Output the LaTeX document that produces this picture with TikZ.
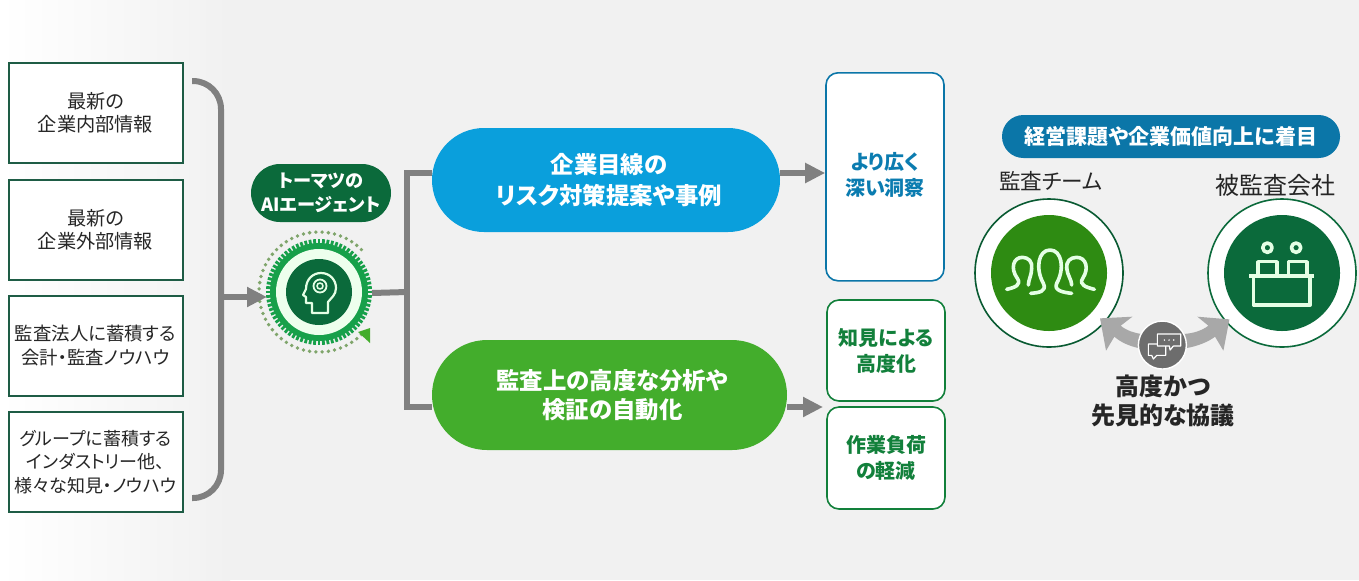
\documentclass[tikz,border=0pt]{standalone}
\usepackage{fontspec}
\setmainfont[RawFeature=+palt]{Noto Sans CJK JP}
\usetikzlibrary{arrows.meta}
\definecolor{darkgreen}{HTML}{0B6A3B}
\definecolor{midgreen}{HTML}{2E8B12}
\definecolor{lightgreen}{HTML}{43AD2C}
\definecolor{gearcol}{HTML}{17A04A}
\definecolor{dotcol}{HTML}{7FA56B}
\definecolor{boxline}{HTML}{1E5C45}
\definecolor{skyblue}{HTML}{0A9FDC}
\definecolor{deepblue}{HTML}{0B76A8}
\definecolor{linegray}{HTML}{808080}
\definecolor{palegray}{HTML}{A8A8A8}
\definecolor{bggray}{HTML}{F1F1F1}
\tikzset{
  srcbox/.style={draw=boxline,fill=white,line width=1pt,minimum width=87pt,minimum height=50pt,align=center,inner sep=0pt,
    font=\fontsize{9.6}{11.6}\selectfont,text=black!85},
  bluepill/.style={fill=skyblue,text=white,rounded corners=26pt,minimum width=174pt,minimum height=52pt,align=center,
    font=\bfseries\fontsize{11.7}{15.5}\selectfont},
  greenpill/.style={fill=lightgreen,text=white,rounded corners=27.5pt,minimum width=177.5pt,minimum height=55pt,align=center,
    font=\bfseries\fontsize{11.7}{14.5}\selectfont},
  resultbox/.style={draw=gearcol!80!black,fill=white,line width=.8pt,rounded corners=6pt,minimum width=59pt,align=center,
    text=gearcol!80!black,font=\bfseries\fontsize{10}{13}\selectfont},
  flow/.style={draw=linegray,line width=3pt},
  flowarrow/.style={flow,-{Triangle[length=10pt,width=9.5pt]}},
  iconline/.style={draw=white!90!green,line width=1.1pt,line cap=round,line join=round},
  bigring/.style={circle,fill=white,line width=.8pt,minimum size=74pt,inner sep=0pt},
  bigdisc/.style={circle,minimum size=58pt,inner sep=0pt}
}
\begin{document}
\begin{tikzpicture}[x=0.5pt,y=-0.5pt]
    \useasboundingbox (0,0) rectangle (1359,580);

    % Background, white at the left edge
    \fill[bggray] (0,0) rectangle (1359,580);
    \shade[left color=white,right color=bggray] (0,0) rectangle (230,580);

    % Source boxes
    \node[srcbox] (internal) at (95.5,113) {最新の\\企業内部情報};
    \node[srcbox] (external) at (95.5,229.5) {最新の\\企業外部情報};
    \node[srcbox,font=\fontsize{9.2}{11.6}\selectfont] (knowhow) at (95.5,345.5) {監査法人に蓄積する\\会計・監査ノウハウ};
    \node[srcbox,font=\fontsize{9}{11.6}\selectfont] (group) at (95.5,462) {グループに蓄積する\\インダストリー他、\\様々な知見・ノウハウ};

    % Bracket
    \coordinate (brtop) at (192,81);
    \coordinate (brmid) at (221,297);
    \coordinate (brbot) at (192,498);
    \draw[flow,rounded corners=14pt] (brtop) -- (221,81) -- (brmid) -- (221,498) -- (brbot);

    % Agent label
    \node[fill=darkgreen,text=white,rounded corners=14.5pt,minimum width=70pt,minimum height=29pt,align=center,
      font=\bfseries\fontsize{9.1}{12}\selectfont] (agentlabel) at (321,193) {トーマツの\\AIエージェント};

    % Agent gear
    \coordinate (gear) at (319,292);
    \foreach \a in {45,51,...,315}
      \fill[dotcol] (gear) ++(-\a:60) circle (1.9);
    \foreach \a in {0,5,...,355}
      \draw[gearcol,line width=1.4pt] (gear) ++(\a:47) -- ++(\a:6);
    \fill[gearcol] (gear) circle (49);
    \fill[white!93!green] (gear) circle (43);
    \node[circle,fill=darkgreen,minimum size=33pt,inner sep=0pt] (agent) at (gear) {};
    \fill[lightgreen] (370,328) -- (358,332) -- (370,343) -- cycle;

    % Head icon
    \draw[iconline] (312,313) -- (312,303) -- (306,303) -- (306,297) -- (303,295) -- (306,289)
      .. controls (306,279) and (313,273) .. (321,273)
      .. controls (330,273) and (336,280) .. (336,288)
      .. controls (336,295) and (331,298) .. (328,302) -- (328,313) -- cycle;
    \draw[iconline,line width=.9pt] (320,286) circle (6.5);
    \draw[iconline,line width=.8pt] (320,286) circle (3);

    % Flow lines
    \coordinate (trunktop) at (407,173);
    \coordinate (trunkbot) at (407,407);
    \coordinate (trunkmid) at (407,292);
    \draw[flowarrow] (brmid) -- (267,297);
    \draw[flow] (372,293) -- (trunkmid);
    \node[bluepill] (risk) at (606,180) {\hspace{3pt}企業目線の\\\hspace{3pt}リスク対策提案や事例};
    \node[greenpill] (audit) at (609.5,395) {\hspace{3pt}監査上の高度な分析や\\\hspace{3pt}検証の自動化};
    \draw[flow] (risk.west |- trunktop) -- (trunktop) -- (trunkbot) -- (audit.west |- trunkbot);

    % Result boxes
    \node[resultbox,draw=deepblue,minimum height=104pt,anchor=north] (insight) at (885,72) {};
    \node[text=deepblue!85!skyblue,align=center,font=\bfseries\fontsize{10}{13}\selectfont] (insighttext) at (885,175) {より広く\\深い洞察};
    \node[resultbox,minimum height=50.5pt] (advance) at (886,350.5) {知見による\\高度化};
    \node[resultbox,minimum height=51pt] (workload) at (886,458) {作業負荷\\の軽減};
    \draw[flowarrow] (780,173) -- (insight.west |- 0,173);
    \draw[flowarrow] (audit.east |- trunkbot) -- (823,407);

    % Right side heading
    \node[fill=deepblue,text=white,rounded corners=10.7pt,minimum width=169pt,minimum height=21.5pt,
      font=\bfseries\fontsize{10.5}{12}\selectfont] (focus) at (1171,136.5) {経営課題や企業価値向上に着目};
    \node[font=\fontsize{10.8}{14}\selectfont,text=black!85] (team) at (1051,181) {監査チーム};
    \node[font=\fontsize{12}{14}\selectfont,text=black!85] (client) at (1275,185) {被監査会社};

    % Team and client circles
    \node[bigring,draw=darkgreen!85!black] (teamring) at (1049,273) {};
    \node[bigdisc,fill=midgreen] (teamdisc) at (teamring) {};
    \node[bigring,draw=darkgreen] (clientring) at (1282,273) {};
    \node[bigdisc,fill=darkgreen] (clientdisc) at (clientring) {};

    % People icon
    \begin{scope}[shift={(960,200)},x=0.1667pt,y=-0.1667pt]
      \draw[iconline,line width=1.8pt] (140,268) .. controls (165,262) and (185,255) .. (172,235)
        .. controls (150,205) and (160,172) .. (187,172) .. controls (205,172) and (218,185) .. (215,205);
      \draw[iconline,line width=1.8pt] (212,280) .. controls (235,278) and (262,275) .. (250,250)
        .. controls (225,205) and (235,150) .. (270,150) .. controls (305,150) and (315,205) .. (290,250)
        .. controls (280,272) and (310,277) .. (335,280);
      \draw[iconline,line width=1.8pt] (320,205) .. controls (318,185) and (330,172) .. (350,172)
        .. controls (378,172) and (388,205) .. (368,235) .. controls (355,255) and (380,262) .. (403,268);
      \draw[iconline,line width=1.8pt] (215,205) .. controls (215,225) and (205,240) .. (205,255);
      \draw[iconline,line width=1.8pt] (320,205) .. controls (322,225) and (335,240) .. (335,255);
    \end{scope}

    % Desk icon
    \begin{scope}[shift={(960,200)},x=0.1667pt,y=-0.1667pt]
      \draw[iconline,line width=1.8pt] (922,143) circle (14);
      \draw[iconline,line width=1.8pt] (1008,143) circle (14);
      \draw[iconline,line width=1.8pt,line cap=butt] (893,228) -- (893,185) -- (950,185) -- (950,228);
      \draw[iconline,line width=1.8pt,line cap=butt] (985,228) -- (985,185) -- (1040,185) -- (1040,228);
      \draw[iconline,line width=1.8pt,line cap=butt] (868,228) -- (1062,228);
      \draw[iconline,line width=1.8pt,line cap=butt] (880,228) rectangle (1050,315);
    \end{scope}

    % Discussion arrows and chat icon
    \begin{scope}[shift={(960,200)},x=0.1667pt,y=-0.1667pt]
      \fill[palegray] (420,355) -- (517,350) -- (482,377) .. controls (500,392) and (520,398) .. (545,402)
        -- (540,445) .. controls (505,438) and (480,425) .. (463,410) -- (438,452) -- cycle;
      \fill[palegray] (808,358) -- (712,350) -- (745,377) .. controls (725,392) and (700,400) .. (670,402)
        -- (675,445) .. controls (715,438) and (745,425) .. (765,410) -- (790,452) -- cycle;
      \node[circle,fill=linegray!85!black,draw=white,line width=.7pt,minimum size=24pt,inner sep=0pt] (chat) at (607,435) {};
      \draw[draw=white,line width=.6pt,line join=round] (592,402) -- (662,402) -- (662,438) -- (640,438) -- (630,450) -- (628,438) -- (592,438) -- cycle;
      \draw[draw=white,line width=.6pt,line join=round] (592,432) -- (565,432) -- (565,466) -- (575,466) -- (580,477) -- (590,466) -- (617,466) -- (617,438);
      \foreach \x in {613,627,641} \fill[white] (\x,420) circle (2.5);
    \end{scope}

    % Discussion label
    \node[align=center,text=black!85,font=\bfseries\fontsize{12}{14.5}\selectfont] (talk) at (1163,401) {高度かつ\\先見的な協議};

\end{tikzpicture}
\end{document}
